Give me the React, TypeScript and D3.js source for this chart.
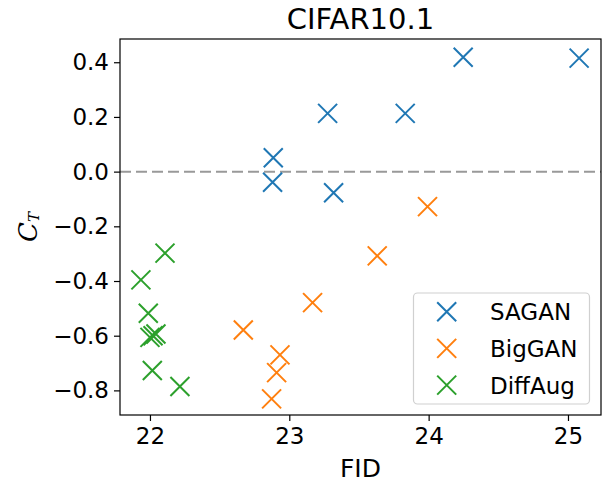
import React, { useRef, useEffect } from "react";
import * as d3 from "d3";

// data
const sagan: [number, number][] = [
  [24.248, 0.418],
  [25.08, 0.415],
  [23.275, 0.213],
  [23.832, 0.213],
  [22.885, 0.051],
  [22.88, -0.039],
  [23.318, -0.077],
];
const biggan: [number, number][] = [
  [23.992, -0.128],
  [23.631, -0.308],
  [23.167, -0.479],
  [22.67, -0.579],
  [22.933, -0.67],
  [22.909, -0.735],
  [22.873, -0.831],
];
const diffaug: [number, number][] = [
  [22.108, -0.298],
  [21.935, -0.396],
  [21.988, -0.518],
  [22.0, -0.606],
  [22.022, -0.6],
  [22.043, -0.594],
  [22.017, -0.727],
  [22.215, -0.786],
];
const seriesNames = ["SAGAN", "BigGAN", "DiffAug"];
const colors = ["#1f77b4", "#ff7f0e", "#2ca02c"];
const xTicks = [22, 23, 24, 25];
const yTicks = [0.4, 0.2, 0.0, -0.2, -0.4, -0.6, -0.8];

function App() {
  const svgRef = useRef<SVGSVGElement>(null);

  useEffect(() => {
    const width = 602,
      height = 483;
    const margin = { top: 39, right: 1, bottom: 68, left: 120 };
    const x = d3
      .scaleLinear()
      .domain([21.785, 25.237])
      .range([margin.left, width - margin.right]);
    const y = d3
      .scaleLinear()
      .domain([-0.89, 0.485])
      .range([height - margin.bottom, margin.top]);

    const svg = d3.select(svgRef.current);
    svg.selectAll("*").remove();
    svg.append("rect").attr("width", width).attr("height", height).attr("fill", "#fff");

    const font = "DejaVu Sans, sans-serif";

    // zero line
    svg
      .append("line")
      .attr("x1", margin.left)
      .attr("x2", width - margin.right)
      .attr("y1", y(0))
      .attr("y2", y(0))
      .attr("stroke", "#999")
      .attr("stroke-width", 2)
      .attr("stroke-dasharray", "11,5");

    const cross = (g: any, cx: number, cy: number, color: string, r = 9.5) => {
      g.append("path")
        .attr("d", `M${cx - r},${cy - r}L${cx + r},${cy + r}M${cx - r},${cy + r}L${cx + r},${cy - r}`)
        .attr("stroke", color)
        .attr("stroke-width", 2)
        .attr("fill", "none");
    };

    const pts = svg.append("g");
    [sagan, biggan, diffaug].forEach((s, i) => {
      s.forEach((d) => cross(pts, x(d[0]), y(d[1]), colors[i]));
    });

    // frame
    svg
      .append("rect")
      .attr("x", margin.left)
      .attr("y", margin.top)
      .attr("width", width - margin.right - margin.left)
      .attr("height", height - margin.bottom - margin.top)
      .attr("fill", "none")
      .attr("stroke", "#000")
      .attr("stroke-width", 1.2);

    const xAxis = d3
      .axisBottom(x)
      .tickValues(xTicks)
      .tickSize(6)
      .tickPadding(7)
      .tickFormat((d: any) => d3.format("d")(d));
    const gx = svg
      .append("g")
      .attr("transform", `translate(0,${height - margin.bottom})`)
      .call(xAxis);
    gx.select(".domain").remove();
    gx.selectAll("line").attr("stroke-width", 1.2);
    gx.selectAll("text").attr("font-size", 23).attr("font-family", font).attr("fill", "#000");

    const yAxis = d3
      .axisLeft(y)
      .tickValues(yTicks)
      .tickSize(6)
      .tickPadding(5)
      .tickFormat((d: any) => d3.format(".1f")(d).replace("-", "\u2212"));
    const gy = svg.append("g").attr("transform", `translate(${margin.left},0)`).call(yAxis);
    gy.select(".domain").remove();
    gy.selectAll("line").attr("stroke-width", 1.2);
    gy.selectAll("text").attr("font-size", 23).attr("font-family", font).attr("fill", "#000");

    // title and labels
    svg
      .append("text")
      .attr("x", (margin.left + width - margin.right) / 2)
      .attr("y", 29)
      .attr("text-anchor", "middle")
      .attr("font-family", font)
      .attr("font-size", 29)
      .text("CIFAR10.1");

    svg
      .append("text")
      .attr("x", (margin.left + width - margin.right) / 2)
      .attr("y", 477)
      .attr("text-anchor", "middle")
      .attr("font-family", font)
      .attr("font-size", 25)
      .text("FID");

    const yl = svg
      .append("text")
      .attr("transform", `translate(37,${(margin.top + height - margin.bottom) / 2}) rotate(-90)`)
      .attr("text-anchor", "middle")
      .attr("font-family", "DejaVu Serif, serif")
      .attr("font-style", "italic")
      .attr("font-size", 26);
    yl.append("tspan").text("C");
    yl.append("tspan").attr("font-size", 15).attr("dy", 2).text("T");

    // legend
    const lg = svg.append("g");
    lg.append("rect")
      .attr("x", 413.5)
      .attr("y", 293)
      .attr("width", 176)
      .attr("height", 111)
      .attr("rx", 4)
      .attr("fill", "#fff")
      .attr("fill-opacity", 0.8)
      .attr("stroke", "#d0d0d0")
      .attr("stroke-width", 1.2);
    seriesNames.forEach((name, i) => {
      const ly = 311.7 + i * 36.7;
      cross(lg, 446.7, ly, colors[i]);
      lg.append("text")
        .attr("x", 490)
        .attr("y", ly + 8.5)
        .attr("font-family", font)
        .attr("font-size", 23)
        .text(name);
    });
  }, []);

  return (
    <svg
      ref={svgRef}
      width={602}
      height={483}
      style={{ position: "absolute", left: 0, top: 0 }}
    />
  );
}

export default App;
